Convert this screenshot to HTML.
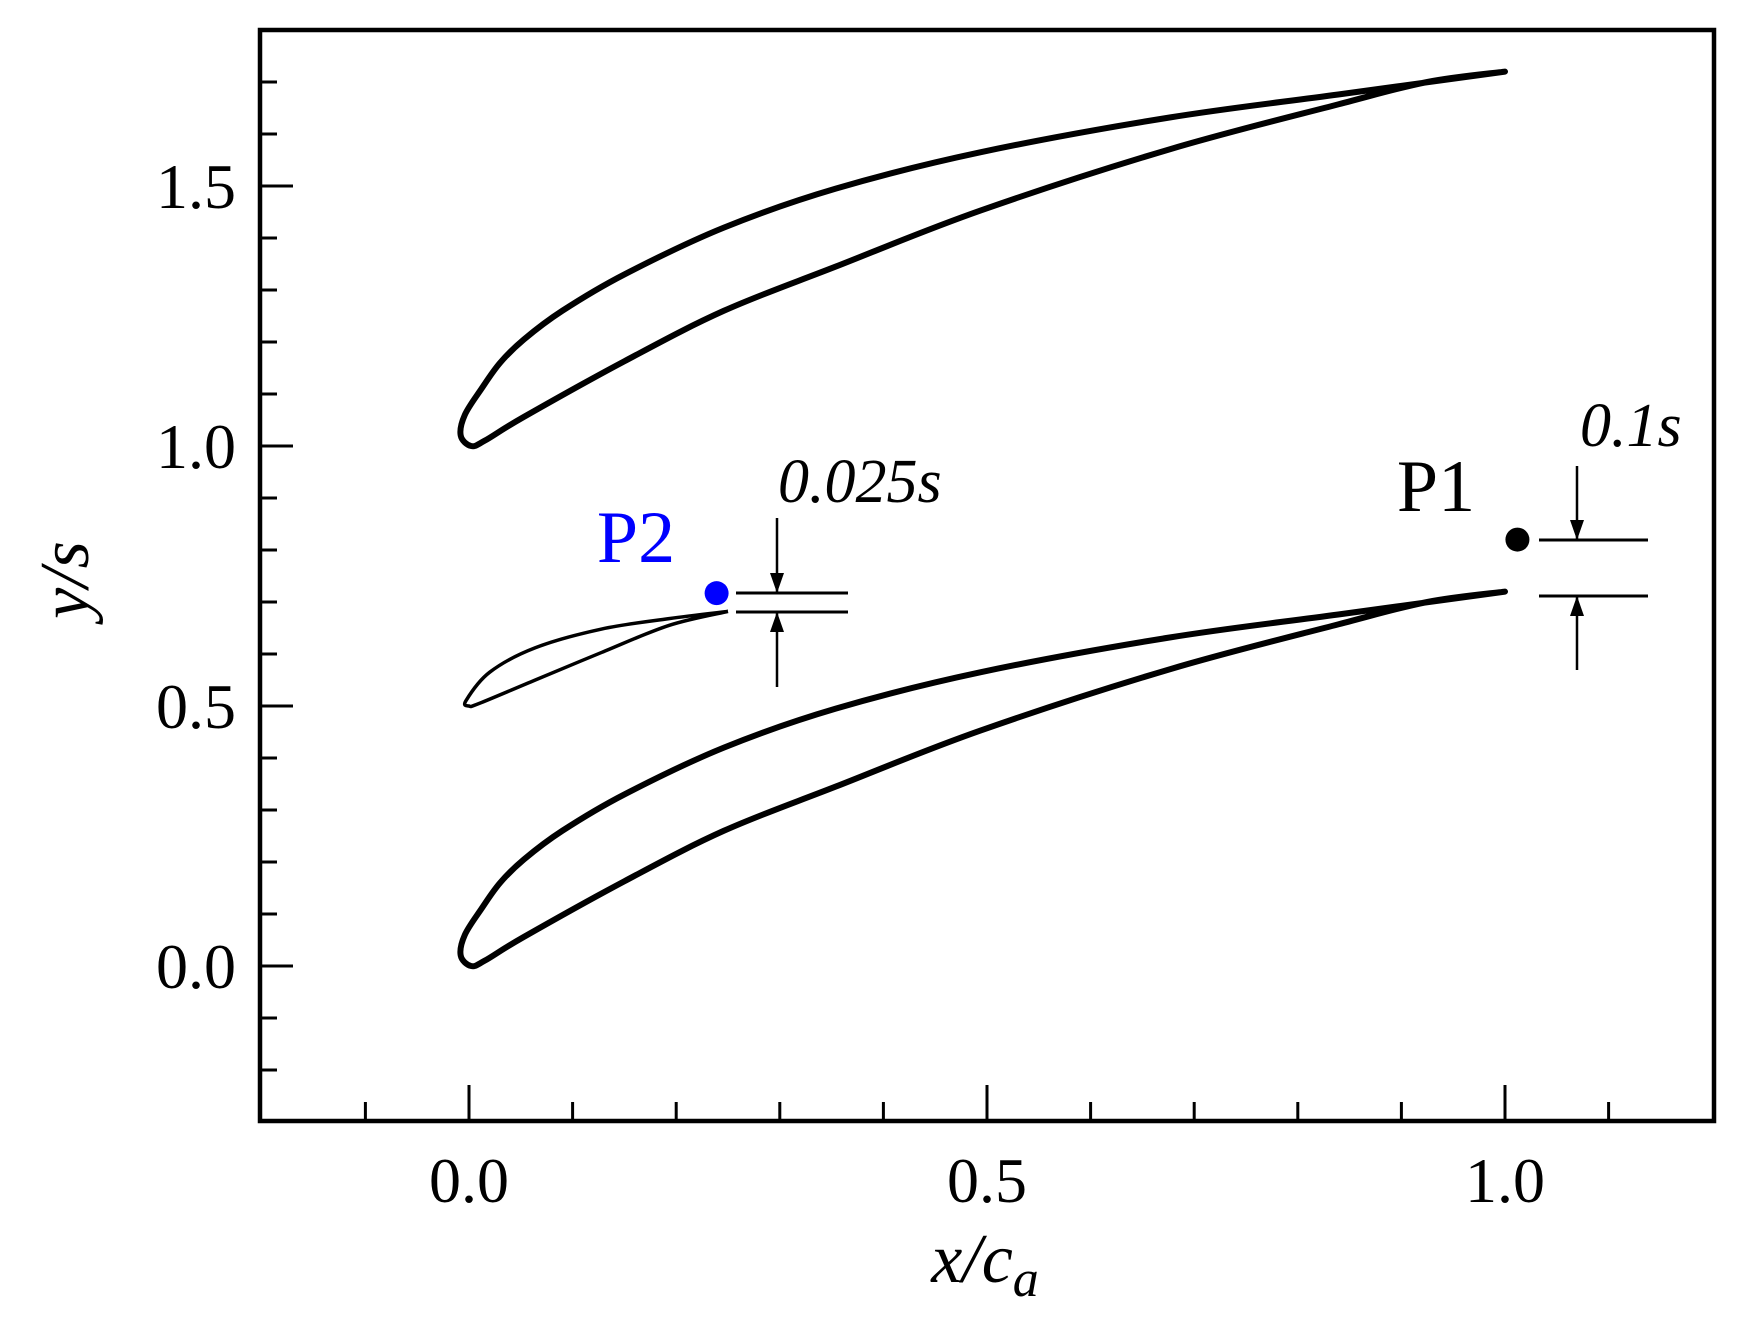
<!DOCTYPE html>
<html><head><meta charset="utf-8"><style>
body{margin:0;background:#fff}
svg text{font-family:"Liberation Serif","Times New Roman",serif}
</style></head><body>
<svg id="c" width="1739" height="1328" xmlns="http://www.w3.org/2000/svg" font-family="Liberation Serif, serif">
<rect width="1739" height="1328" fill="#fff"/>
<g id="marks"></g>
<text x="778" y="502" font-size="62" font-style="italic">0.025s</text>
<text x="1580" y="446" font-size="62" font-style="italic">0.1s</text>
<text x="636" y="562" font-size="74" fill="#0000ff" text-anchor="middle">P2</text>
<text x="1436" y="511" font-size="74" text-anchor="middle">P1</text>
<text x="985" y="1282" font-size="70" font-style="italic" text-anchor="middle">x/c<tspan font-size="52" dy="14">a</tspan></text>
<text transform="translate(88,580) rotate(-90)" font-size="70" font-style="italic" text-anchor="middle">y/s</text>
</svg>
<script>
const xTicks=[-0.1,0,0.1,0.2,0.3,0.4,0.5,0.6,0.7,0.8,0.9,1.0,1.1];
const xLabels=[0.0,0.5,1.0];
const yTicks=[-0.2,-0.1,0,0.1,0.2,0.3,0.4,0.5,0.6,0.7,0.8,0.9,1.0,1.1,1.2,1.3,1.4,1.5,1.6,1.7];
const yLabels=[0.0,0.5,1.0,1.5];
// loop: trailing edge -> pressure side -> leading edge -> suction side -> trailing edge
const bladeX=[1.0,0.925,0.839,0.677,0.494,0.354,0.246,0.15,0.053,0.015,0.002,-0.008,-0.004,0.012,0.03,0.053,0.09,0.15,0.246,0.354,0.494,0.677,0.839,1.0];
const bladeY=[0.72,0.70,0.657,0.571,0.453,0.345,0.26,0.163,0.056,0.01,0.0,0.02,0.06,0.11,0.16,0.205,0.26,0.33,0.42,0.495,0.565,0.632,0.676,0.72];
const bladeOffsets=[0,1];
const smallX=[0.25,0.193,0.128,0.064,0.01,0.0,-0.003,0.02,0.064,0.128,0.193,0.25];
const smallY=[0.682,0.655,0.603,0.55,0.505,0.5,0.51,0.565,0.612,0.648,0.668,0.682];
const points=[{name:'P1',x:1.012,y:0.82,color:'#000'},{name:'P2',x:0.239,y:0.717,color:'#0000ff'}];
const L=260,R=1714,T=30,B=1121;
const sx=v=>469+v*1036, sy=v=>966-v*520;
const svg=document.getElementById('marks');
const NS='http://www.w3.org/2000/svg';
function el(tag,attrs,parent){const e=document.createElementNS(NS,tag);for(const k in attrs)e.setAttribute(k,attrs[k]);(parent||svg).appendChild(e);return e;}
function smooth(xs,ys,o){const P=xs.map((x,i)=>[sx(x),sy(ys[i]+o)]);let d='M'+P[0][0]+','+P[0][1];
 for(let i=0;i<P.length-1;i++){const p0=P[Math.max(i-1,0)],p1=P[i],p2=P[i+1],p3=P[Math.min(i+2,P.length-1)];
  const c1=[p1[0]+(p2[0]-p0[0])/6,p1[1]+(p2[1]-p0[1])/6],c2=[p2[0]-(p3[0]-p1[0])/6,p2[1]-(p3[1]-p1[1])/6];
  d+=`C${c1[0]},${c1[1]} ${c2[0]},${c2[1]} ${p2[0]},${p2[1]}`;}
 return d;}
xTicks.forEach(v=>{const maj=xLabels.some(l=>Math.abs(l-v)<1e-9);
 const t=el('line',{x1:sx(v),x2:sx(v),y1:B,y2:B-(maj?36:19),stroke:'#000','stroke-width':3});
 
 });
yTicks.forEach(v=>{const maj=yLabels.some(l=>Math.abs(l-v)<1e-9);
 const t=el('line',{x1:L,x2:L+(maj?33:17),y1:sy(v),y2:sy(v),stroke:'#000','stroke-width':3});
 
 });
xLabels.forEach(v=>{const t=el('text',{x:sx(v),y:1202,'font-size':64,'text-anchor':'middle'});t.textContent=v.toFixed(1);
 
 });
yLabels.forEach(v=>{const t=el('text',{x:236,y:sy(v)+22,'font-size':64,'text-anchor':'end'});t.textContent=v.toFixed(1);
 
 });
bladeOffsets.forEach(o=>{
 const p=el('path',{d:smooth(bladeX,bladeY,o),fill:'none',stroke:'#000','stroke-width':6,'stroke-linejoin':'round','stroke-linecap':'round'});
 
 });
{const p=el('path',{d:smooth(smallX,smallY,0),fill:'none',stroke:'#000','stroke-width':3.5,'stroke-linejoin':'round'});
 
 }
points.forEach(pt=>{const c=el('circle',{cx:sx(pt.x),cy:sy(pt.y),r:12,fill:pt.color});
 
 });
const f=el('rect',{x:L,y:T,width:R-L,height:B-T,fill:'none',stroke:'#000','stroke-width':4.5});


function arrow(x,y1,y2){el('line',{x1:x,x2:x,y1:y1,y2:y2,stroke:'#000','stroke-width':2.5});
 const dir=y2>y1?1:-1;el('path',{d:`M${x-7},${y2-dir*20}L${x},${y2}L${x+7},${y2-dir*20}Z`,fill:'#000'});}
el('line',{x1:736,x2:848,y1:593,y2:593,stroke:'#000','stroke-width':3});
el('line',{x1:736,x2:848,y1:612,y2:612,stroke:'#000','stroke-width':3});
arrow(777,518,593);arrow(777,687,612);
el('line',{x1:1539,x2:1648,y1:540,y2:540,stroke:'#000','stroke-width':3});
el('line',{x1:1539,x2:1648,y1:596,y2:596,stroke:'#000','stroke-width':3});
arrow(1577,466,540);arrow(1577,670,596);
</script>
</body></html>
